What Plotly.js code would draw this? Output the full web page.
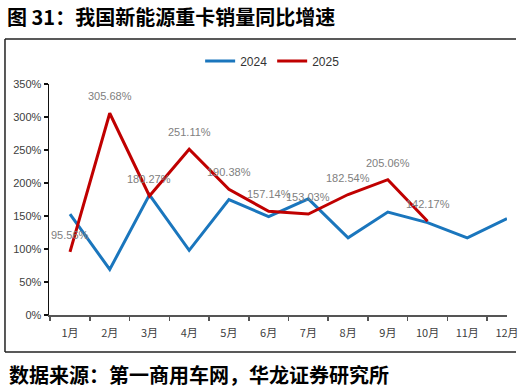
<!DOCTYPE html>
<html>
<head>
<meta charset="utf-8">
<script src="https://cdn.plot.ly/plotly-3.0.1.min.js"></script>
<style>html,body{margin:0;padding:0;background:#fff;}#chart{width:521px;height:392px;}</style>
</head>
<body>
<div id="chart"></div>
<script>
var months = ["1月","2月","3月","4月","5月","6月","7月","8月","9月","10月","11月","12月"];
var growth2024 = [153, 69, 182, 98, 175, 149, 176, 117, 156, 140, 117, 146];
var months2025 = ["1月","2月","3月","4月","5月","6月","7月","8月","9月","10月"];
var growth2025 = [95.56, 305.68, 180.27, 251.11, 190.38, 157.14, 153.03, 182.54, 205.06, 142.17];
var yTicks = [0, 50, 100, 150, 200, 250, 300, 350];

var traces = [
  {x: months, y: growth2024, name: "2024", type: "scatter", mode: "lines",
   line: {color: "#1a76bd", width: 3}},
  {x: months2025, y: growth2025, name: "2025", type: "scatter", mode: "lines",
   line: {color: "#c00000", width: 3}}
];

var annos = months2025.map(function(m, i){
  return {x: m, y: growth2025[i], xref: "x", yref: "y", text: growth2025[i].toFixed(2) + "%",
    showarrow: false, yshift: 17, font: {family: "Liberation Sans, Arial", size: 11, color: "#808080"}};
});
annos.push({xref: "paper", yref: "paper", x: -0.0917, y: -0.257, xanchor: "left", yanchor: "middle",
  text: "<b>数据来源：第一商用车网，华龙证券研究所</b>", showarrow: false,
  font: {family: "Noto Sans CJK SC", size: 20, color: "#000"}});

var L = -0.0961, R = 1.0197, T = 1.1948, B = -0.1602;
var layout = {
  width: 521, height: 392,
  margin: {l: 49, r: 14, t: 84, b: 77},
  paper_bgcolor: "#fff", plot_bgcolor: "#fff",
  title: {text: "<b>图 31：我国新能源重卡销量同比增速</b>", xref: "container", yref: "container",
    x: 7/521, xanchor: "left", y: 1 - 18/392, yanchor: "middle",
    font: {family: "Noto Sans CJK SC", size: 20, color: "#000"}},
  showlegend: true,
  legend: {orientation: "h", x: 0.33, xanchor: "left", y: 1.10, yanchor: "middle",
    font: {family: "Liberation Sans, Arial", size: 12, color: "#333"}, itemwidth: 30,
    bgcolor: "rgba(0,0,0,0)"},
  xaxis: {type: "category", categoryarray: months, categoryorder: "array",
    showline: true, linecolor: "#555", linewidth: 1.5, ticks: "outside", tickson: "boundaries",
    ticklen: 4, tickcolor: "#555", tickwidth: 1.5, showgrid: false, zeroline: false,
    ticklabelstandoff: 7,
    tickfont: {family: "Noto Sans CJK SC", size: 11, color: "#404040"}},
  yaxis: {range: [0, 350], tickvals: yTicks, ticktext: yTicks.map(function(v){return v + "%";}),
    showline: true, linecolor: "#111", linewidth: 1.5, ticks: "outside", ticklen: 4,
    tickcolor: "#111", tickwidth: 1.5, showgrid: false, zeroline: false,
    tickfont: {family: "Liberation Sans, Arial", size: 11, color: "#404040"}},
  annotations: annos,
  shapes: [
    {type: "line", xref: "paper", yref: "paper", x0: L, x1: R, y0: T, y1: T, line: {color: "#222", width: 1.5}},
    {type: "line", xref: "paper", yref: "paper", x0: L, x1: L, y0: T, y1: B, line: {color: "#222", width: 1.5}},
    {type: "line", xref: "paper", yref: "paper", x0: L, x1: R, y0: B, y1: B, line: {color: "#222", width: 1.5}}
  ]
};
Plotly.newPlot("chart", traces, layout, {displayModeBar: false, staticPlot: true});
</script>
</body>
</html>
